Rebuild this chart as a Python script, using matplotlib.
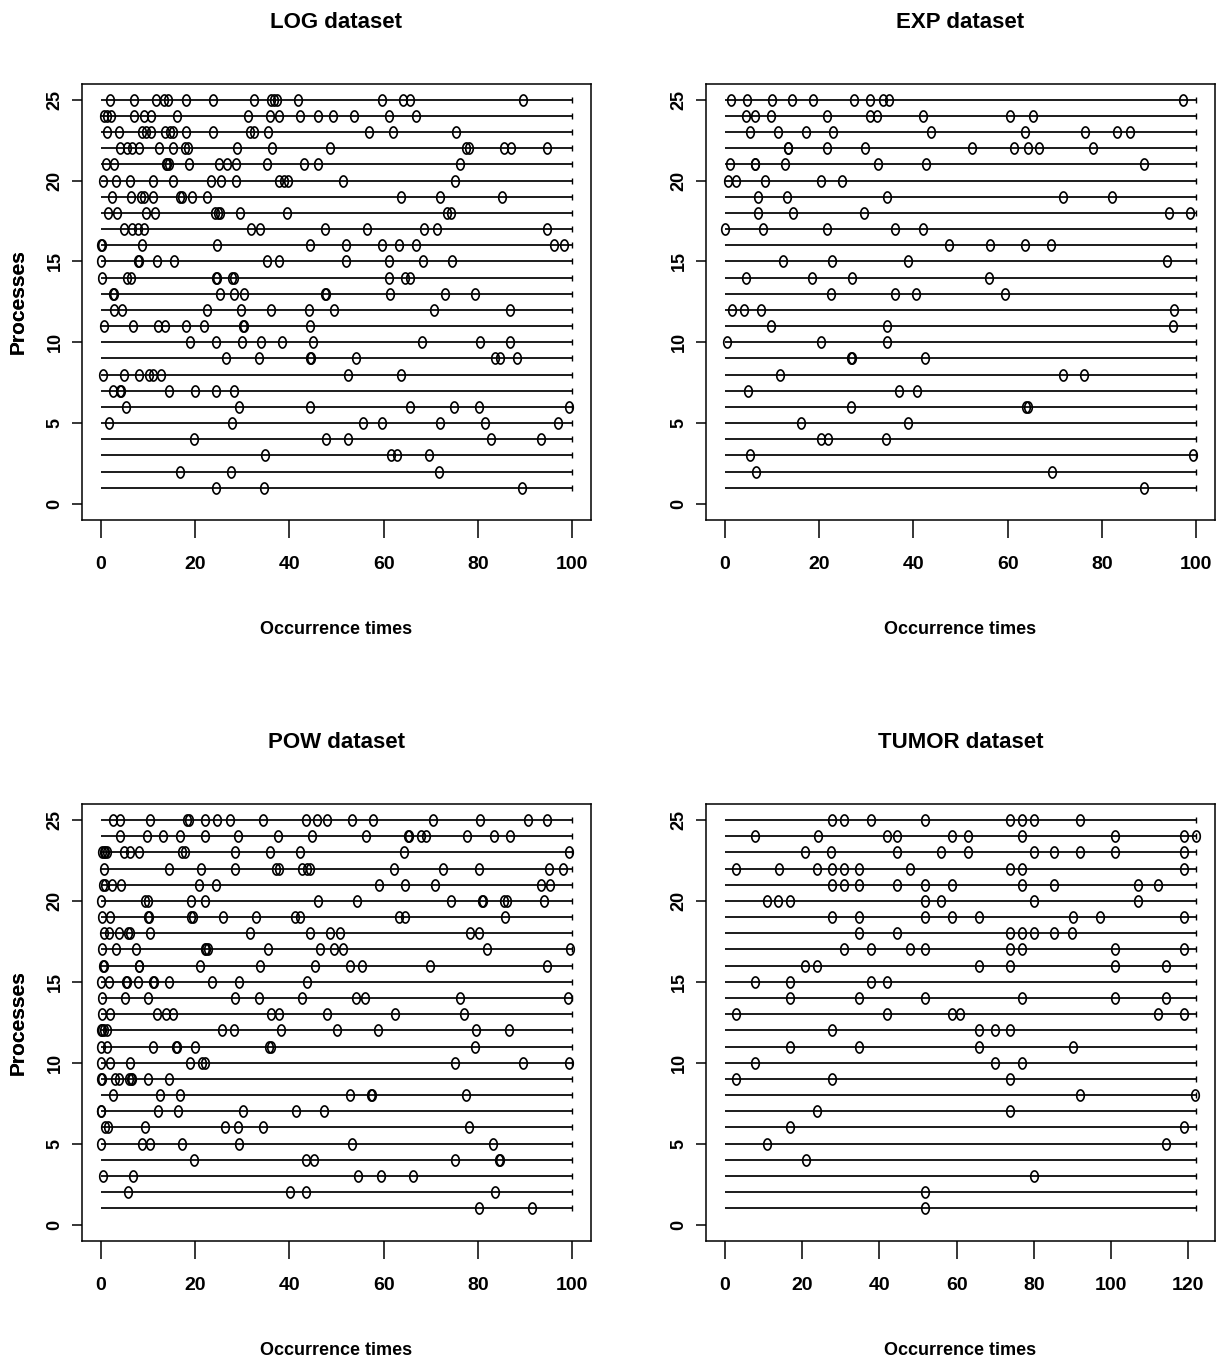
import matplotlib
matplotlib.use("Agg")
import matplotlib.pyplot as plt
from matplotlib.path import Path
import numpy as np

# ---------------- data (occurrence times per process, process 1..25) ----------------
log_times = [
    [24.5, 34.7, 89.4],
    [16.7, 27.6, 71.7],
    [34.9, 61.6, 62.8, 69.7],
    [19.7, 47.8, 52.4, 82.7, 93.4],
    [1.8, 27.8, 55.6, 59.7, 71.9, 81.6, 97.0],
    [5.4, 29.4, 44.3, 65.7, 74.9, 80.2, 99.3],
    [2.5, 4.0, 4.3, 14.5, 20.0, 24.5, 28.2],
    [0.4, 5.0, 8.2, 10.3, 11.0, 12.7, 52.4, 63.7],
    [26.6, 33.6, 44.3, 44.5, 54.1, 83.7, 84.6, 88.3],
    [19.0, 24.5, 29.9, 34.0, 38.4, 45.0, 68.2, 80.4, 86.8],
    [0.6, 6.8, 12.2, 13.7, 18.1, 21.8, 30.2, 30.4, 44.4],
    [2.7, 4.5, 22.6, 29.7, 36.0, 44.1, 49.5, 70.6, 86.9],
    [2.5, 2.7, 25.3, 28.3, 30.4, 47.5, 47.7, 61.3, 73.0, 79.3],
    [0.3, 5.5, 6.4, 24.4, 24.7, 27.9, 28.3, 61.1, 64.6, 65.7],
    [0.1, 7.9, 8.1, 12.0, 15.6, 35.2, 37.9, 52.0, 61.1, 68.3, 74.5],
    [0.1, 0.3, 8.7, 24.6, 44.4, 52.0, 59.7, 63.2, 66.9, 96.1, 98.2],
    [5.0, 6.6, 7.8, 9.1, 31.8, 33.7, 47.6, 56.5, 68.5, 71.3, 94.6],
    [1.6, 3.4, 9.6, 11.5, 24.3, 24.8, 25.3, 29.6, 39.5, 73.5, 74.2],
    [2.3, 6.4, 8.5, 9.2, 11.0, 16.8, 17.3, 19.3, 22.5, 63.6, 71.9, 85.1],
    [0.4, 3.3, 6.1, 11.0, 15.3, 23.4, 25.5, 28.7, 37.7, 38.8, 39.8, 51.4, 75.2],
    [1.1, 2.7, 13.9, 14.1, 14.4, 18.6, 25.0, 26.8, 28.7, 35.2, 43.0, 46.0, 76.3],
    [4.1, 5.5, 6.6, 8.0, 12.4, 15.4, 17.9, 18.4, 28.9, 36.4, 48.7, 77.4, 78.1, 85.6, 87.0, 94.6],
    [1.4, 3.9, 8.7, 9.6, 10.6, 13.7, 14.7, 15.4, 18.1, 23.9, 31.6, 32.4, 35.4, 56.8, 62.0, 75.4],
    [0.7, 1.4, 2.1, 7.1, 9.1, 10.6, 16.1, 31.2, 35.9, 37.7, 42.3, 46.1, 49.3, 53.8, 61.1, 66.9],
    [2.0, 7.1, 11.7, 13.3, 14.2, 18.1, 23.8, 32.4, 36.1, 36.7, 37.4, 41.8, 59.7, 64.1, 65.5, 89.5],
]

exp_times = [
    [89.0],
    [6.7, 69.5],
    [5.3, 99.4],
    [20.4, 21.8, 34.1],
    [16.1, 38.9],
    [26.8, 63.9, 64.4],
    [5.0, 36.9, 40.8],
    [11.8, 71.7, 76.3],
    [26.7, 26.9, 42.5],
    [0.5, 20.3, 34.5],
    [9.7, 34.3, 95.0],
    [1.6, 4.0, 7.6, 95.4],
    [22.6, 36.2, 40.6, 59.4],
    [4.4, 18.5, 26.9, 56.1],
    [12.4, 22.8, 38.9, 93.8],
    [47.6, 56.3, 63.7, 69.2],
    [0.1, 8.0, 21.6, 36.2, 42.0],
    [7.1, 14.5, 29.6, 94.3, 98.7],
    [7.1, 13.1, 34.3, 71.7, 82.2],
    [0.6, 2.3, 8.5, 20.3, 24.8],
    [1.1, 6.3, 6.5, 12.7, 32.4, 42.7, 89.0],
    [13.3, 13.5, 21.6, 29.7, 52.4, 61.4, 64.3, 66.7, 78.2],
    [5.3, 11.3, 17.3, 23.0, 43.7, 63.6, 76.4, 83.3, 86.0],
    [4.4, 6.4, 9.7, 21.7, 30.9, 32.2, 42.0, 60.5, 65.3],
    [1.3, 4.6, 9.9, 14.3, 18.8, 27.4, 30.8, 33.6, 34.8, 97.2],
]

pow_times = [
    [80.2, 91.5],
    [5.7, 40.2, 43.5, 83.6],
    [0.4, 6.8, 54.6, 59.5, 66.2],
    [19.7, 43.6, 45.2, 75.1, 84.5, 84.7],
    [0.1, 8.7, 10.5, 17.2, 29.4, 53.3, 83.2],
    [0.8, 1.6, 9.3, 26.3, 29.0, 34.4, 78.2],
    [0.0, 0.1, 12.2, 16.3, 30.1, 41.4, 47.4],
    [2.5, 12.5, 16.8, 52.9, 57.4, 57.6, 77.4],
    [0.1, 0.3, 3.0, 3.8, 6.0, 6.3, 6.6, 9.9, 14.4],
    [0.0, 2.0, 6.2, 19.0, 21.4, 22.0, 75.1, 89.5, 99.3],
    [0.0, 1.4, 11.0, 15.9, 16.1, 20.0, 35.6, 36.0, 79.3],
    [0.0, 0.3, 0.6, 1.4, 25.7, 28.2, 38.3, 50.0, 58.8, 79.6, 86.6],
    [0.2, 2.0, 11.9, 13.9, 15.4, 36.0, 37.7, 48.0, 62.5, 77.1],
    [0.2, 5.2, 10.1, 28.4, 33.6, 42.7, 54.2, 56.1, 76.3, 99.1],
    [0.1, 1.8, 5.4, 5.6, 7.8, 11.1, 11.3, 14.5, 23.6, 29.4, 43.7],
    [0.4, 0.7, 8.0, 8.2, 21.1, 33.8, 45.5, 52.8, 55.4, 69.9, 94.6],
    [0.2, 3.3, 7.5, 22.0, 22.4, 22.7, 35.4, 46.4, 49.4, 51.4, 82.0, 99.5],
    [0.6, 1.8, 3.8, 5.7, 6.1, 10.5, 31.6, 44.3, 48.7, 50.7, 78.3, 80.2],
    [0.2, 2.0, 10.1, 10.3, 19.2, 19.5, 26.0, 32.9, 41.3, 42.3, 63.2, 64.6, 85.8],
    [0.0, 9.4, 10.1, 19.2, 22.0, 46.1, 54.4, 74.3, 80.8, 81.0, 85.6, 86.2, 94.0],
    [0.4, 0.8, 2.3, 4.3, 20.9, 24.5, 59.1, 64.6, 70.8, 93.4, 95.4],
    [0.7, 14.5, 21.2, 28.4, 37.2, 37.7, 42.7, 43.7, 44.3, 62.1, 72.6, 80.3, 95.0, 98.0],
    [0.2, 0.6, 0.9, 1.3, 5.0, 6.2, 8.0, 17.2, 17.9, 28.4, 35.8, 42.3, 64.3, 99.3],
    [4.1, 9.8, 13.2, 16.7, 22.0, 29.1, 37.6, 44.9, 56.3, 65.2, 65.4, 67.9, 69.0, 77.7, 83.4, 86.9],
    [2.5, 4.0, 10.5, 18.3, 18.8, 22.0, 24.6, 27.3, 34.5, 43.5, 45.9, 48.0, 53.3, 57.7, 70.4, 80.4, 90.7, 94.6],
]

tumor_times = [
    [51.8],
    [51.8],
    [79.9],
    [20.9],
    [10.8, 114.2],
    [16.8, 118.9],
    [23.9, 73.8],
    [92.0, 121.8],
    [2.8, 27.8, 73.8],
    [7.8, 69.9, 77.0],
    [16.8, 34.8, 65.9, 90.0],
    [27.8, 65.9, 69.9, 73.8],
    [2.8, 41.9, 58.9, 60.9, 112.0, 118.9],
    [16.8, 34.7, 51.8, 77.0, 101.0, 114.2],
    [7.8, 16.8, 37.8, 41.9],
    [20.7, 23.9, 65.8, 73.8, 101.0, 114.2],
    [30.9, 37.8, 47.9, 51.8, 73.8, 77.0, 101.0, 118.9],
    [34.7, 44.6, 73.8, 77.0, 80.1, 85.1, 89.8],
    [27.8, 34.7, 51.8, 58.9, 65.8, 90.0, 97.0, 118.9],
    [10.8, 13.8, 16.8, 51.8, 55.9, 80.1, 106.9],
    [27.8, 30.9, 34.7, 44.6, 51.8, 58.9, 77.0, 85.1, 106.9, 112.0],
    [2.8, 14.0, 23.9, 27.8, 30.9, 34.7, 47.9, 73.8, 77.0, 118.9],
    [20.7, 27.6, 44.6, 55.9, 62.9, 79.9, 85.1, 92.0, 101.0, 118.9],
    [7.8, 24.0, 41.9, 44.6, 58.9, 62.9, 77.0, 101.0, 118.9, 121.9],
    [27.8, 30.9, 37.8, 51.8, 73.8, 77.0, 80.1, 92.0],
]

end_times = [100, 100, 100, 122]
titles = ["LOG dataset", "EXP dataset", "POW dataset", "TUMOR dataset"]
x_ticks = [[0, 20, 40, 60, 80, 100]] * 3 + [[0, 20, 40, 60, 80, 100, 120]]
y_ticks = [0, 5, 10, 15, 20, 25]
x_label = "Occurrence times"
y_label = "Processes"
datasets = [log_times, exp_times, pow_times, tumor_times]

# ---------------- styling ----------------
NARROW = ["Liberation Sans Narrow", "Liberation Sans", "DejaVu Sans"]
REGULAR = ["Liberation Sans", "DejaVu Sans"]
W, H = 1219, 1365
fig = plt.figure(figsize=(W / 100, H / 100), dpi=100)

theta = np.linspace(0, 2 * np.pi, 73)
ellipse = Path(np.column_stack([0.68 * np.cos(theta), np.sin(theta)]))

# axes boxes in pixels: (left, top, right, bottom)
boxes = [(82, 83.6, 591, 520), (706, 83.6, 1215, 520),
         (82, 803.8, 591, 1240.7), (706, 803.8, 1215, 1240.7)]

for k in range(4):
    l, t, r, b = boxes[k]
    ax = fig.add_axes([l / W, 1 - b / H, (r - l) / W, (b - t) / H])
    data, end = datasets[k], end_times[k]
    for i, times in enumerate(data, start=1):
        ax.plot([0, end], [i, i], color="black", lw=1.25, solid_capstyle="butt", zorder=2)
        ax.plot([end], [i], marker="|", ms=5, mew=1.0, color="black", zorder=2)
        ax.plot(times, [i] * len(times), ls="none", marker=ellipse, ms=8,
                mfc="none", mec="black", mew=1.2, zorder=3)
    ax.set_xlim(-0.04 * end, 1.04 * end)
    ax.set_ylim(-1, 26)
    for s in ax.spines.values():
        s.set_linewidth(1.1)
    ax.set_xticks(x_ticks[k])
    ax.set_xticklabels([str(v) for v in x_ticks[k]], family=NARROW, fontweight="bold", fontsize=14)
    ax.set_yticks(y_ticks)
    ax.set_yticklabels([str(v) for v in y_ticks], family=REGULAR, fontweight="bold",
                       fontsize=13, rotation=90, va="center")
    ax.tick_params(axis="x", direction="out", length=13, width=1.1, pad=13)
    ax.tick_params(axis="y", direction="out", length=7.2, width=1.1, pad=6)
    hpx = b - t
    ax.text(0.5, 1 + 61 / hpx, titles[k], transform=ax.transAxes, ha="center", va="center",
            family=NARROW, fontweight="bold", fontsize=16)
    ax.text(0.5, -110 / hpx, x_label, transform=ax.transAxes, ha="center", va="center",
            family=NARROW, fontweight="bold", fontsize=13)
    ax.text((18.5 - l) / (r - l), 0.5, y_label, transform=ax.transAxes, rotation=90,
            ha="center", va="center", family=REGULAR, fontweight="bold", fontsize=15)

fig.savefig("out.png", dpi=100)
